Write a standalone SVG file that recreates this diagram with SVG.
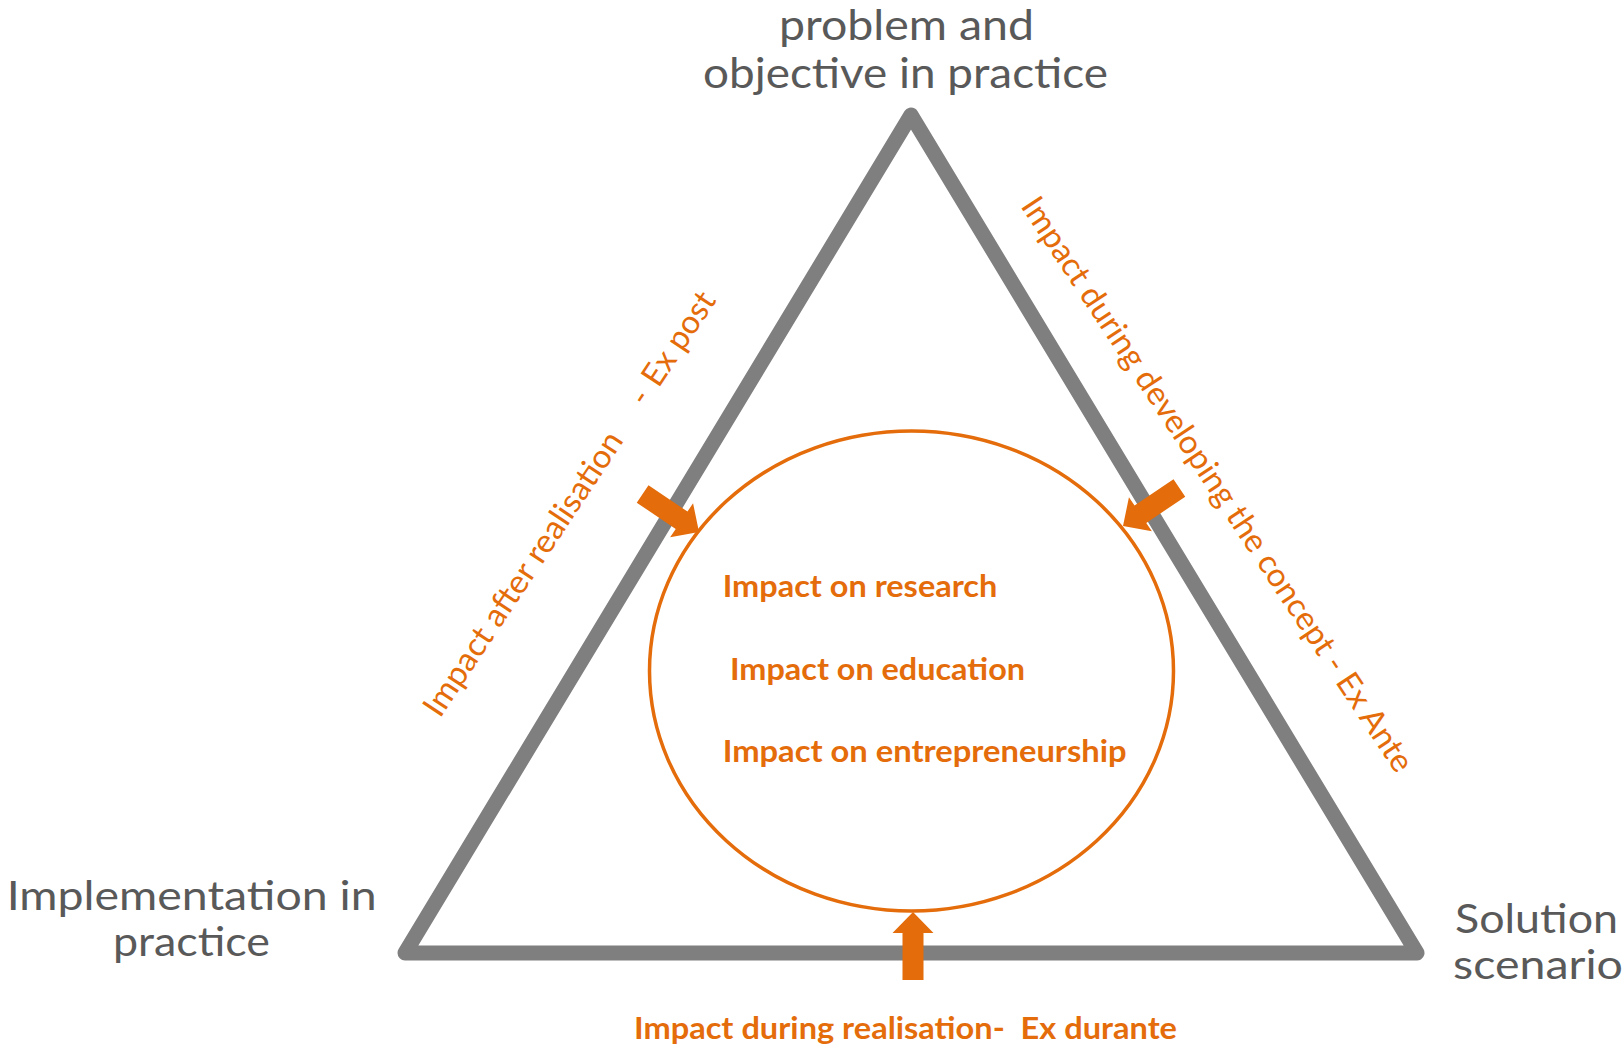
<svg xmlns="http://www.w3.org/2000/svg" width="1624" height="1044" viewBox="0 0 1624 1044">
<style>
.lbl{font-family:Lato,"Open Sans","Liberation Sans",sans-serif;font-size:42px;fill:#595959;text-anchor:middle}
.lbl2{font-size:41px}
.inner{font-family:Lato,"Open Sans","Liberation Sans",sans-serif;font-size:31px;font-weight:bold;fill:#E46C0A}
.side{font-family:Lato,"Open Sans","Liberation Sans",sans-serif;font-size:32.5px;fill:#E46C0A}
.tri{fill:none;stroke:#7F7F7F;stroke-width:15;stroke-linejoin:round}
.circ{fill:none;stroke:#E46C0A;stroke-width:3.5}
.arr{fill:#E46C0A}
</style>
<defs>
<path id="blockArrow" d="M0,0 L-21,-20.5 L-21,-10.5 L-68,-10.5 L-68,10.5 L-21,10.5 L-21,20.5 Z"/>
</defs>
<rect width="1624" height="1044" fill="#FFFFFF"/>
<g id="triangle"><polygon class="tri" points="405,953 911,115 1417,953"/></g>
<g id="impact-circle">
<ellipse class="circ" cx="911.5" cy="671" rx="262" ry="240"/>
<text class="inner" x="722.7" y="596.7" textLength="274.6" lengthAdjust="spacingAndGlyphs">Impact on research</text>
<text class="inner" x="730" y="679.5" textLength="295" lengthAdjust="spacingAndGlyphs">Impact on education</text>
<text class="inner" x="722.7" y="761.5" textLength="404" lengthAdjust="spacingAndGlyphs">Impact on entrepreneurship</text>
</g>
<g id="node-problem">
<text class="lbl" x="906.5" y="39.5" textLength="255" lengthAdjust="spacingAndGlyphs">problem and</text>
<text class="lbl" x="905.5" y="88" textLength="405" lengthAdjust="spacingAndGlyphs">objective in practice</text>
</g>
<g id="node-implementation">
<text class="lbl lbl2" x="191.7" y="909.5" textLength="370" lengthAdjust="spacingAndGlyphs">Implementation in</text>
<text class="lbl lbl2" x="191.5" y="955.5" textLength="157" lengthAdjust="spacingAndGlyphs">practice</text>
</g>
<g id="node-solution">
<text class="lbl lbl2" x="1536.5" y="933" textLength="163" lengthAdjust="spacingAndGlyphs">Solution</text>
<text class="lbl lbl2" x="1538" y="979" textLength="170" lengthAdjust="spacingAndGlyphs">scenario</text>
</g>
<g id="connectors">
<use href="#blockArrow" class="arr" transform="translate(699,532) rotate(34)"/>
<use href="#blockArrow" class="arr" transform="translate(1123,526) rotate(146)"/>
<use href="#blockArrow" class="arr" transform="translate(913,912) rotate(-90)"/>
</g>
<g id="label-expost">
<text class="side" transform="translate(440,719) rotate(-56.5)"><tspan x="0" y="0" textLength="334" lengthAdjust="spacingAndGlyphs">Impact after realisation</tspan><tspan x="373" y="0">-</tspan><tspan x="396" y="0" textLength="106" lengthAdjust="spacingAndGlyphs">Ex post</tspan></text>
</g>
<g id="label-exante">
<text class="side" transform="translate(1020,206) rotate(56.5)" textLength="682" lengthAdjust="spacingAndGlyphs">Impact during developing the concept - Ex Ante</text>
</g>
<g id="label-exdurante">
<text class="inner" x="634" y="1039" textLength="543" lengthAdjust="spacingAndGlyphs">Impact during realisation-&#160; Ex durante</text>
</g>
</svg>
